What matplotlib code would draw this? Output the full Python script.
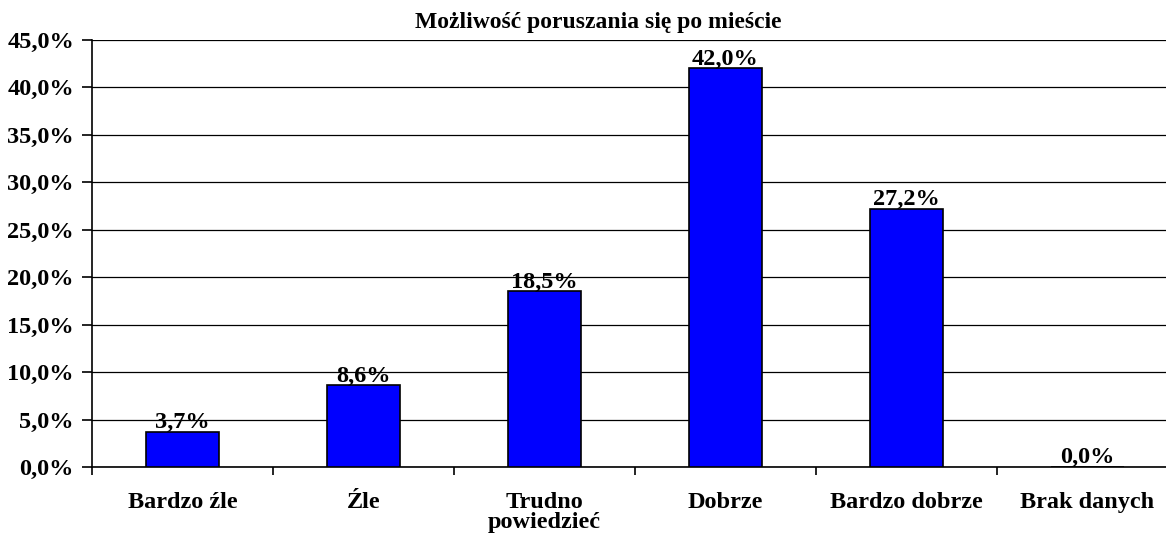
import matplotlib
matplotlib.use("Agg")
import matplotlib.pyplot as plt
import numpy as np
from matplotlib.ticker import FuncFormatter, FixedLocator, MultipleLocator

categories = ["Bardzo źle", "Źle", "Trudno\npowiedzieć", "Dobrze", "Bardzo dobrze", "Brak danych"]
values = [3.7, 8.6, 18.5, 42.0, 27.2, 0.0]
title = "Możliwość poruszania się po mieście"

plt.rcParams['font.family'] = ['Liberation Serif', 'DejaVu Serif']
plt.rcParams['font.weight'] = 'bold'

W, H = 1166, 533
fig = plt.figure(figsize=(W/100, H/100), dpi=100)
left, right, top, bottom = 92, 1178, 40, 467
ax = fig.add_axes([left/W, 1-bottom/H, (right-left)/W, (bottom-top)/H])

x = np.arange(len(categories))
bars = ax.bar(x, values, width=0.4, color="#0000FF", edgecolor="black", linewidth=1.2, zorder=3)

ax.set_xlim(-0.5, len(categories)-0.5)
ax.set_ylim(0, 45)
ax.yaxis.set_major_locator(MultipleLocator(5))
ax.yaxis.set_major_formatter(FuncFormatter(lambda v, p: f"{v:.1f}%".replace(".", ",")))
ax.grid(axis='y', color='black', linewidth=0.9, zorder=0)
for s in ['top', 'right']:
    ax.spines[s].set_visible(False)
for s in ['left', 'bottom']:
    ax.spines[s].set_linewidth(1.2)

ax.set_xticks(x)
ax.set_xticklabels(categories, fontsize=17.5, fontweight='bold', linespacing=0.95)
ax.tick_params(axis='x', length=0, pad=18)
ax.xaxis.set_minor_locator(FixedLocator(np.arange(-0.5, len(categories), 1.0)))
ax.tick_params(axis='x', which='minor', length=6, width=1.2, direction='out')
ax.tick_params(axis='y', length=7, width=1.2, labelsize=17.5, pad=6)
for lbl in ax.get_yticklabels():
    lbl.set_fontweight('bold')

for xi, v in zip(x, values):
    ax.annotate(f"{v:.1f}%".replace(".", ","), (xi, v), xytext=(0, -1), textcoords='offset points',
                ha='center', va='bottom', fontsize=17.5, fontweight='bold', zorder=4)

fig.text(598/W, 1-22/H, title, ha='center', va='center', fontsize=17, fontweight='bold')

fig.savefig("out.png", dpi=100)
